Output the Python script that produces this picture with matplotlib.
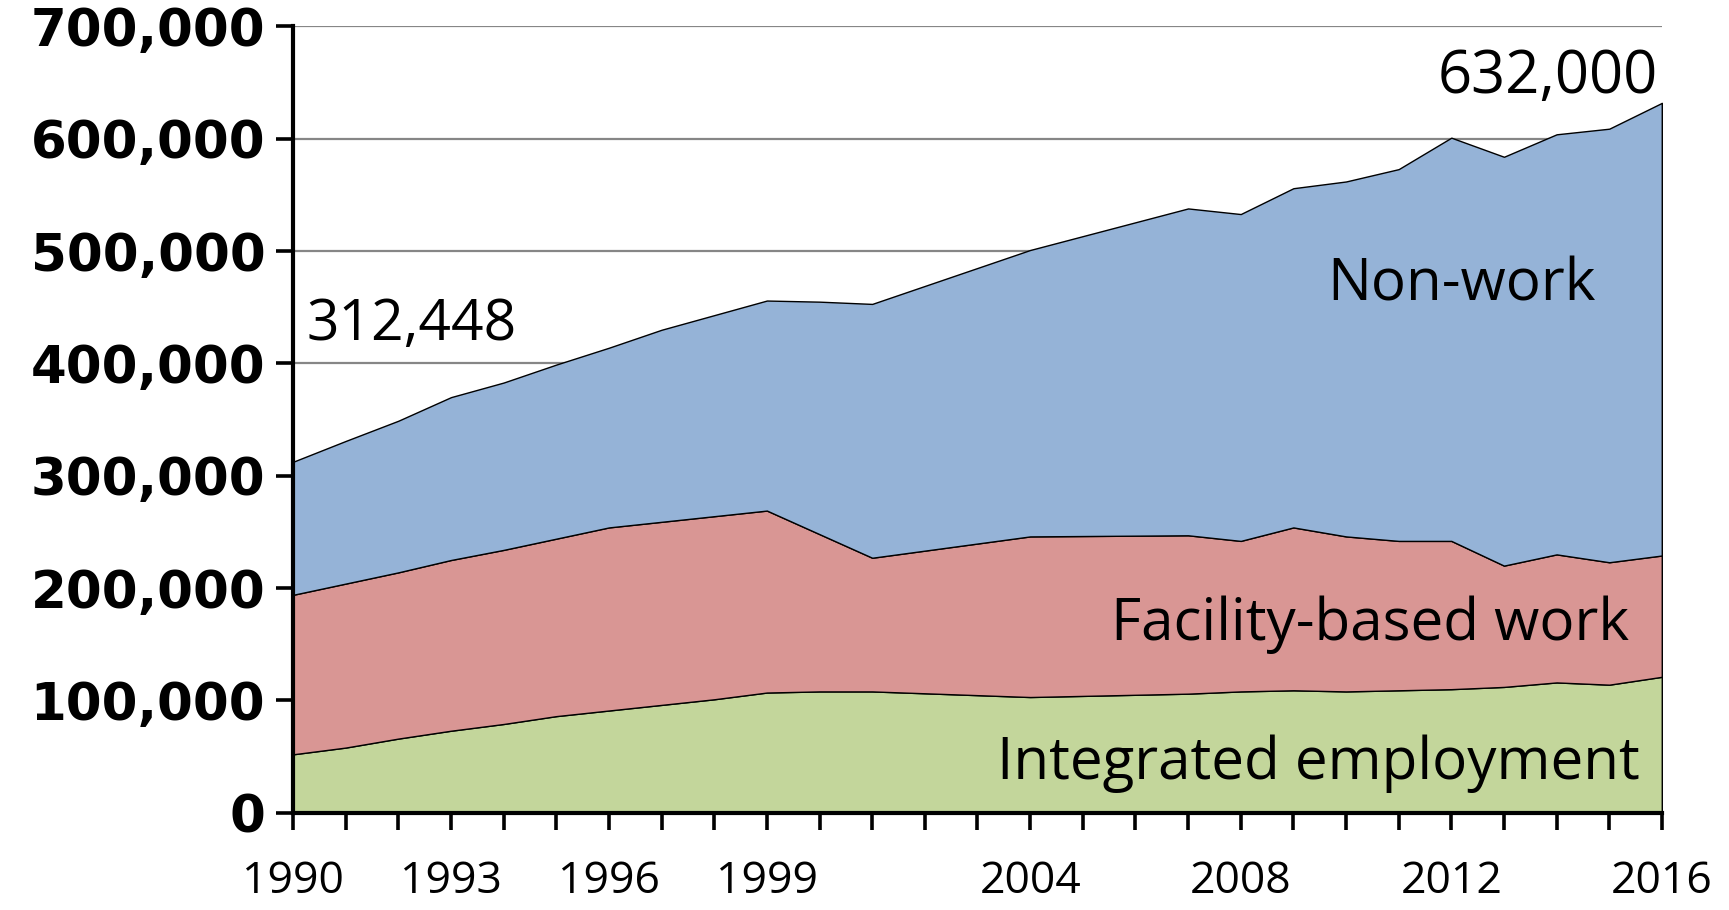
import numpy as np
import matplotlib
matplotlib.use("Agg")
import matplotlib.pyplot as plt
from matplotlib.ticker import FuncFormatter

# ** DADOS **
anos = [1990, 1991, 1992, 1993, 1994, 1995, 1996, 1997, 1998, 1999, 2000, 2001,
        2004, 2007, 2008, 2009, 2010, 2011, 2012, 2013, 2014, 2015, 2016]
integrado = [52000, 58000, 66000, 73000, 79000, 86000, 91000, 96000, 101000, 107000, 108000, 108000,
             103000, 106000, 108000, 109000, 108000, 109000, 110000, 112000, 116000, 114000, 121000]
instituicao = [142000, 146000, 148000, 152000, 155000, 158000, 163000, 163000, 163000, 162000, 140000, 119000,
               143000, 141000, 134000, 145000, 138000, 133000, 132000, 108000, 114000, 109000, 108000]
sem_trabalho = [118448, 127000, 135000, 145000, 149000, 155000, 160000, 171000, 179000, 187000, 207000, 226000,
                255000, 291000, 291000, 302000, 316000, 331000, 359000, 364000, 374000, 386000, 403000]

series_nomes = ["Integrated employment", "Facility-based work", "Non-work"]
cores = ["#C3D69B", "#D99694", "#95B3D7"]
anos_rotulo = [1990, 1993, 1996, 1999, 2004, 2008, 2012, 2016]
y_ticks = [0, 100000, 200000, 300000, 400000, 500000, 600000, 700000]

fonte = ["Open Sans", "DejaVu Sans"]

# ** FIGURA **
fig = plt.figure(figsize=(17.29, 9.10), dpi=100)
ax = fig.add_axes([0.1695, 0.1069, 0.7917, 0.864])

ax.stackplot(anos, integrado, instituicao, sem_trabalho, colors=cores,
             edgecolor="black", linewidth=1.0, zorder=3)

# Borda direita das áreas
total = np.array(integrado) + np.array(instituicao) + np.array(sem_trabalho)
ax.plot([anos[-1], anos[-1]], [0, total[-1]], color="black", lw=1.0, zorder=4)

ax.set_xlim(1990, 2016)
ax.set_ylim(0, 700000)

# Grade horizontal
for yv in y_ticks[1:]:
    ax.axhline(yv, color="#868686", lw=1.6, zorder=1)

ax.set_yticks(y_ticks)
ax.yaxis.set_major_formatter(FuncFormatter(lambda v, p: f"{int(v):,}"))
for lbl in ax.get_yticklabels():
    lbl.set_fontfamily("DejaVu Sans")
    lbl.set_fontweight("bold")
    lbl.set_fontsize(37)

ax.set_xticks(range(1990, 2017))
ax.set_xticklabels([str(a) if a in anos_rotulo else "" for a in range(1990, 2017)],
                   family=fonte, fontsize=32)

ax.tick_params(axis="y", direction="out", length=12, width=2.6, pad=8)
ax.tick_params(axis="x", direction="out", length=12, width=2.6, pad=22)

for s in ["top", "right"]:
    ax.spines[s].set_visible(False)
for s in ["left", "bottom"]:
    ax.spines[s].set_linewidth(3)
    ax.spines[s].set_zorder(5)

# Rótulos das séries
ax.text(2015.58, 44000, series_nomes[0], ha="right", va="center", fontsize=42, family=fonte, zorder=6)
ax.text(2015.37, 167000, series_nomes[1], ha="right", va="center", fontsize=42, family=fonte, zorder=6)
ax.text(2014.74, 470000, series_nomes[2], ha="right", va="center", fontsize=42, family=fonte, zorder=6)

# Anotações dos totais
ax.text(1990.25, 434000, f"{int(total[0]):,}", ha="left", va="center", fontsize=41, family=fonte, zorder=6)
ax.text(2015.92, 655000, "632,000", ha="right", va="center", fontsize=43, family=fonte, zorder=6)

fig.savefig("out.png", dpi=100)
